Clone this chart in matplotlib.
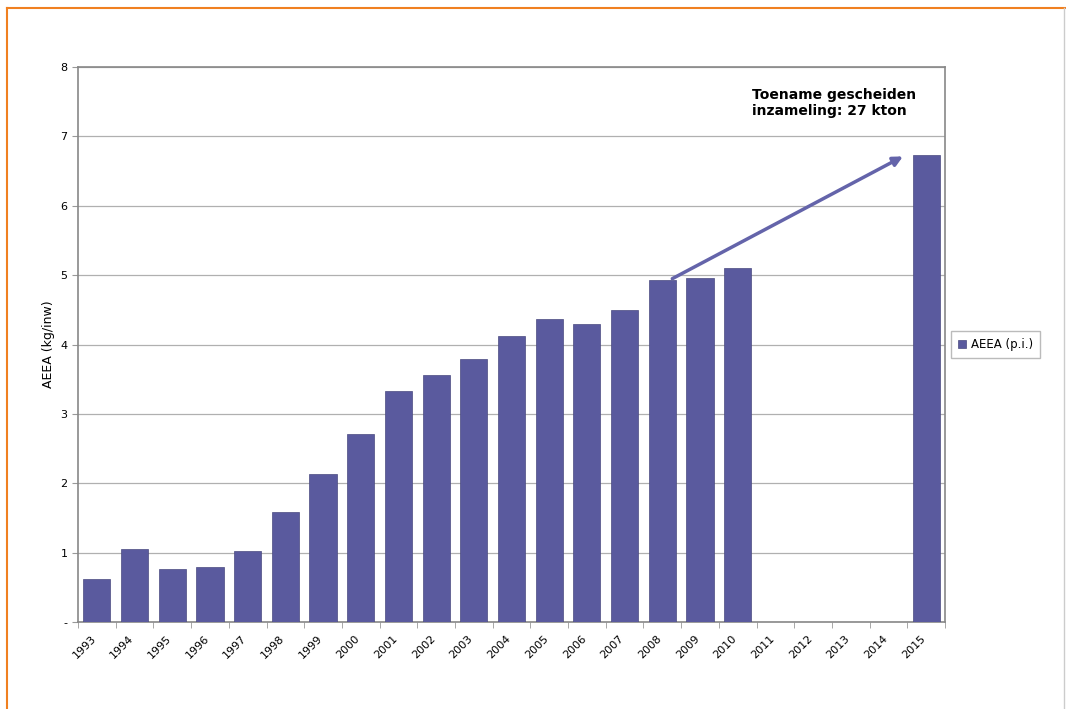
import numpy as np
import matplotlib
matplotlib.use('Agg')
import matplotlib.pyplot as plt
import matplotlib.transforms as mtransforms
from matplotlib.lines import Line2D

years = [str(y) for y in range(1993, 2016)]
aeea = [0.62, 1.05, 0.77, 0.80, 1.02, 1.58, 2.13, 2.71, 3.33, 3.56, 3.79, 4.12,
        4.37, 4.29, 4.50, 4.93, 4.96, 5.10, np.nan, np.nan, np.nan, np.nan, 6.73]
y_ticks = [0, 1, 2, 3, 4, 5, 6, 7, 8]
y_tick_labels = ['-', '1', '2', '3', '4', '5', '6', '7', '8']

bar_color = '#5A5A9E'

fig = plt.figure(figsize=(10.66, 7.09), dpi=100)
ax = fig.add_axes([0.0732, 0.1227, 0.8133, 0.7828])

x = np.arange(len(years))
vals = np.nan_to_num(np.array(aeea, dtype=float))
ax.bar(x, vals, width=0.72, color=bar_color, edgecolor='#4a4a80', linewidth=0.5,
       label='AEEA (p.i.)', zorder=3)

ax.set_xlim(-0.5, len(years) - 0.5)
ax.set_ylim(0, 8)
ax.set_yticks(y_ticks)
ax.set_yticklabels(y_tick_labels, fontsize=8)
ax.set_xticks(x)
ax.set_xticklabels(years, rotation=45, ha='right', rotation_mode='anchor', fontsize=8)
ax.tick_params(axis='x', length=0, pad=8)
# shift year labels slightly left, like the reference
offset = mtransforms.ScaledTranslation(-6 / 100, 0, fig.dpi_scale_trans)
for lab in ax.get_xticklabels():
    lab.set_transform(lab.get_transform() + offset)
ax.set_xticks(np.arange(-0.5, len(years)), minor=True)
ax.tick_params(axis='x', which='minor', length=4, color='#999999')
ax.tick_params(axis='y', length=4, color='#999999')
ax.yaxis.grid(True, color='#b0b0b0', linewidth=0.9, zorder=0)
for s in ax.spines.values():
    s.set_color('#888888')
    s.set_linewidth(1.2)
ax.set_ylabel('AEEA (kg/inw)', fontsize=9)

# arrow from 2008 bar to 2015 bar
i08 = years.index('2008')
i15 = years.index('2015')
ax.annotate('', xy=(i15 - 0.55, aeea[i15]), xytext=(i08 + 0.2, aeea[i08]),
            arrowprops=dict(arrowstyle='-|>', color='#6464AA', lw=2.5, mutation_scale=14),
            zorder=4)
ax.text(19.55, 7.48, 'Toename gescheiden\ninzameling: 27 kton', ha='center', va='center',
        multialignment='left', fontsize=10, fontweight='bold', linespacing=1.25)

ax.legend(loc='center left', bbox_to_anchor=(1.0, 0.5), fontsize=8.5, frameon=True,
          fancybox=False, edgecolor='#aaaaaa', handlelength=0.7, handleheight=0.7,
          handletextpad=0.4, borderpad=0.6)

# orange frame
fig.add_artist(Line2D([0.0066, 1.0], [0.989, 0.989], color='#F08020', lw=1.5))
fig.add_artist(Line2D([0.0066, 0.0066], [0.0, 0.989], color='#F08020', lw=1.5))
fig.add_artist(Line2D([0.998, 0.998], [0.0, 0.989], color='#cccccc', lw=1.0))

fig.savefig('out.png', dpi=100)
